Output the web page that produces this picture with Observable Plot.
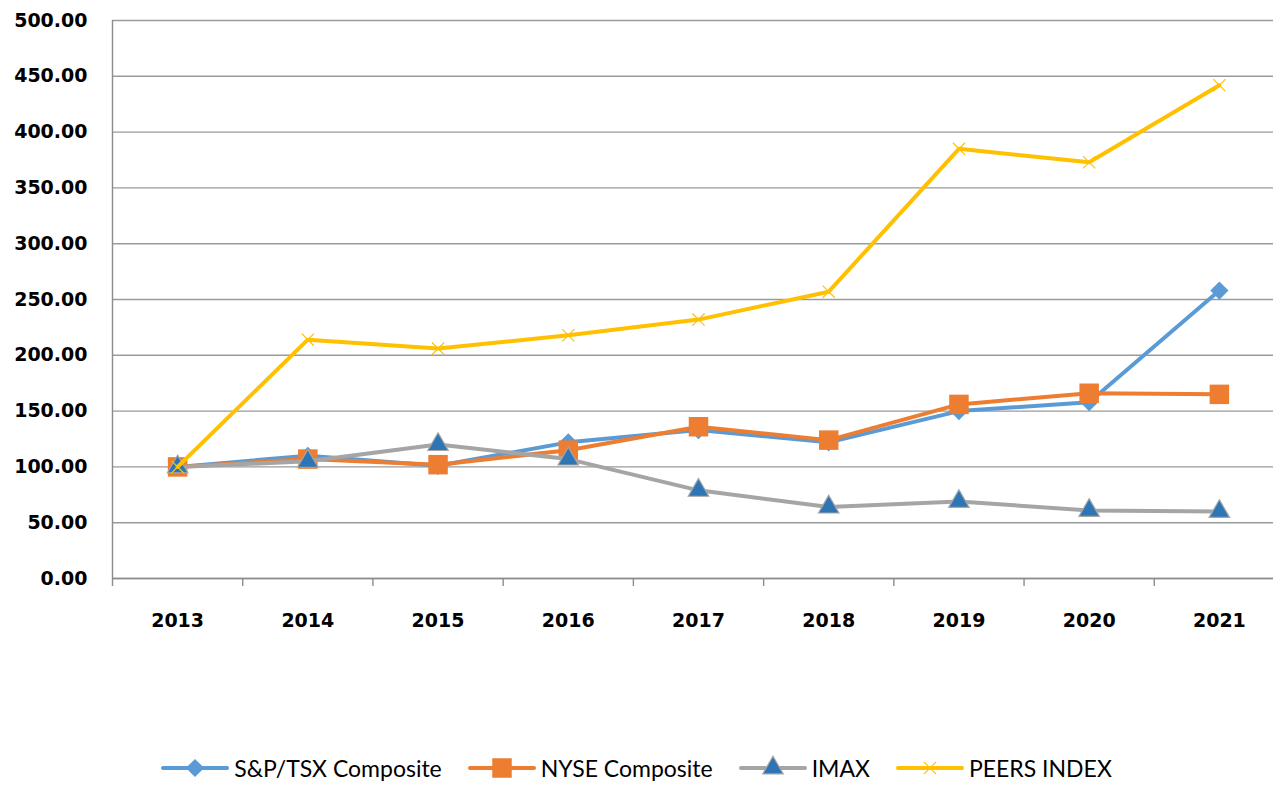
<!DOCTYPE html>
<html>
<head>
<meta charset="utf-8">
<script src="https://cdn.jsdelivr.net/npm/d3@7"></script>
<script src="https://cdn.jsdelivr.net/npm/@observablehq/plot@0.6"></script>
<style>
  html, body { margin: 0; padding: 0; background: #fff; overflow: hidden; }
  #chart svg { display: block; }
  #legend { display: flex; justify-content: center; align-items: center; height: 32px; padding-top: 14px;
    font-family: Lato, "Open Sans", sans-serif; font-size: 23px; line-height: 28px; color: #000; white-space: nowrap; }
  .item { display: flex; align-items: center; margin: 0 13px; }
  .item svg { margin-right: 5px; }
</style>
</head>
<body>
<div id="chart"></div>
<div id="legend"></div>
<script>
const years = [2013, 2014, 2015, 2016, 2017, 2018, 2019, 2020, 2021];
const sptsx = [100, 110, 101, 122, 133, 122, 150, 158, 258];
const nyse  = [100, 107, 102, 115, 136, 124, 156, 166, 165];
const imax  = [100, 105, 120, 107, 79, 64, 69, 61, 60];
const peers = [100, 214, 206, 218, 232, 257, 385, 373, 442];
const seriesNames = ["S&P/TSX Composite", "NYSE Composite", "IMAX", "PEERS INDEX"];
const yTicks = [0, 50, 100, 150, 200, 250, 300, 350, 400, 450, 500];

const styles = [
  {name: seriesNames[0], values: sptsx, line: "#5B9BD5", symbol: "diamond2", r: 8.2, fill: "#5B9BD5", stroke: "none", sw: 0},
  {name: seriesNames[1], values: nyse,  line: "#ED7D31", symbol: "square",   r: 11,  fill: "#ED7D31", stroke: "none", sw: 0},
  {name: seriesNames[2], values: imax,  line: "#A5A5A5", symbol: "triangle", r: 7.6, fill: "#2E75B6", stroke: "#A5A5A5", sw: 1.2},
  {name: seriesNames[3], values: peers, line: "#FFC000", symbol: "times",    r: 5.6, fill: "none",    stroke: "#FFC000", sw: 1.2}
];

const boundaries = years.map(y => y - 0.5).concat([years[years.length - 1] + 0.5]);

const marks = [
  Plot.gridY(yTicks, {stroke: "#9a9a9a", strokeOpacity: 1, strokeWidth: 1.4}),
  Plot.ruleX([years[0] - 0.5], {y1: 0, y2: 500, stroke: "#8c8c8c", strokeWidth: 1.4}),
  Plot.ruleY([0], {stroke: "#8c8c8c", strokeWidth: 1.4}),
  Plot.axisY({ticks: yTicks, tickSize: 0, tickPadding: 25, tickFormat: d => d.toFixed(2), label: null,
    fontSize: 19, fontWeight: "bold", fill: "#000"}),
  Plot.axisX({ticks: boundaries, tickSize: 8, tickFormat: () => "", label: null, stroke: "#8c8c8c", strokeWidth: 1.4}),
  Plot.axisX({ticks: years, tickSize: 0, tickPadding: 35, tickFormat: d => String(d), label: null,
    fontSize: 19, fontWeight: "bold", fill: "#000"})
];
for (const s of styles) {
  const data = years.map((yr, i) => ({year: yr, value: s.values[i]}));
  marks.push(Plot.line(data, {x: "year", y: "value", stroke: s.line, strokeWidth: 4, strokeLinejoin: "round", strokeLinecap: "round"}));
  marks.push(Plot.dot(data, {x: "year", y: "value", symbol: () => s.symbol, r: s.r, fill: s.fill, stroke: s.stroke, strokeWidth: s.sw}));
}

const chart = Plot.plot({
  width: 1273,
  height: 738,
  marginLeft: 112,
  marginRight: 0,
  marginTop: 20,
  marginBottom: 160,
  style: {fontFamily: "'DejaVu Sans', sans-serif", background: "#fff"},
  x: {type: "linear", domain: [years[0] - 0.5, years[years.length - 1] + 0.5], range: [112, 1284], axis: null},
  y: {domain: [0, 500], axis: null},
  marks
});
document.getElementById("chart").appendChild(chart);

// legend
const legend = document.getElementById("legend");
for (const s of styles) {
  const item = document.createElement("div");
  item.className = "item";
  const ns = "http://www.w3.org/2000/svg";
  const svg = document.createElementNS(ns, "svg");
  svg.setAttribute("width", 68); svg.setAttribute("height", 30);
  const ln = document.createElementNS(ns, "line");
  ln.setAttribute("x1", 2); ln.setAttribute("x2", 66); ln.setAttribute("y1", 15); ln.setAttribute("y2", 15);
  ln.setAttribute("stroke", s.line); ln.setAttribute("stroke-width", 4); ln.setAttribute("stroke-linecap", "round");
  svg.appendChild(ln);
  const symMap = {diamond2: d3.symbolDiamond2, square: d3.symbolSquare, triangle: d3.symbolTriangle, times: d3.symbolTimes};
  const p = document.createElementNS(ns, "path");
  p.setAttribute("d", d3.symbol(symMap[s.symbol], Math.PI * s.r * s.r)());
  p.setAttribute("transform", "translate(34,15)");
  p.setAttribute("fill", s.fill); p.setAttribute("stroke", s.stroke); p.setAttribute("stroke-width", s.sw);
  svg.appendChild(p);
  item.appendChild(svg);
  const t = document.createElement("span");
  t.textContent = s.name;
  item.appendChild(t);
  legend.appendChild(item);
}
</script>
</body>
</html>
